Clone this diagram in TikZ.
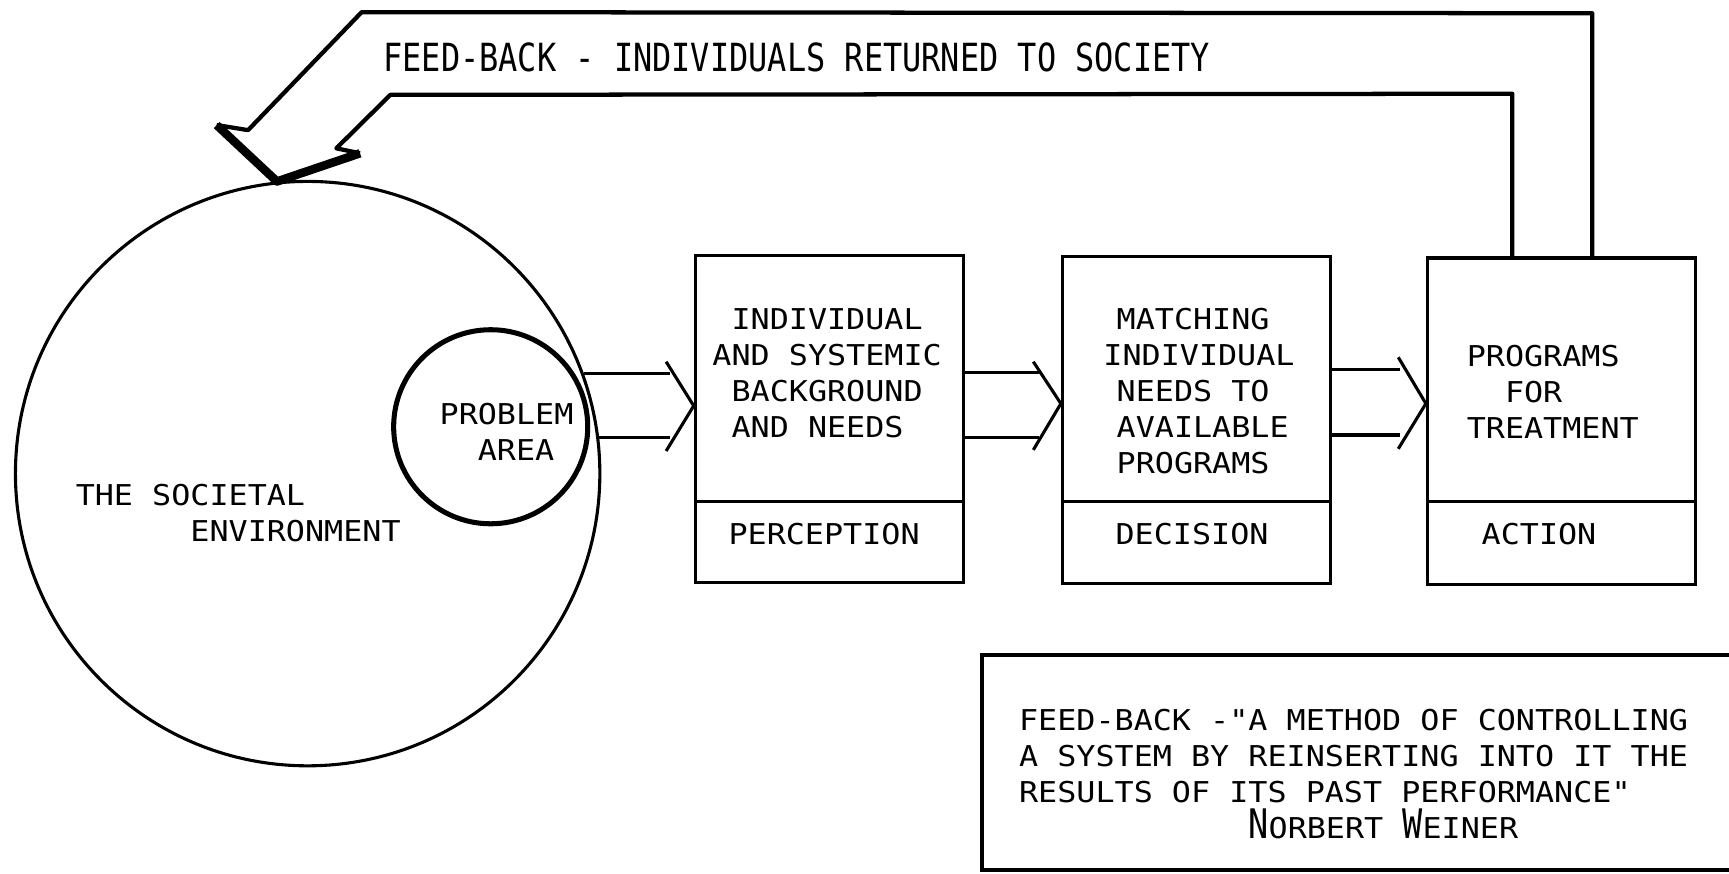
\documentclass[tikz,border=0pt]{standalone}
\usepackage{fontspec}
\newfontfamily\typewriter[FakeStretch=1.107]{DejaVu Sans Mono}
\newfontfamily\feedfont[FakeStretch=0.824]{DejaVu Sans Mono}
\newcommand{\typefont}{\typewriter\fontsize{7.4}{9.3}\selectfont}
\newcommand{\initialcap}{\feedfont\fontsize{10.5}{9.3}\selectfont}
\usetikzlibrary{backgrounds}

\begin{document}
\begin{tikzpicture}[x=0.1mm, y=-0.1mm, every node/.style={inner sep=0pt, align=left, font=\typefont},
    box/.style={draw, line width=0.8pt, minimum width=24.3mm, minimum height=29.6mm},
    world/.style={draw, circle, line width=0.8pt, minimum size=53mm},
    problem/.style={draw, circle, line width=1.3pt, minimum size=17.6mm},
    shaft/.style={line width=0.8pt},
    feedback/.style={line width=1.1pt, line join=round},
    barb/.style={line width=2.2pt, line join=round},
    background rectangle/.style={fill=white}, show background rectangle, inner frame sep=0pt]

\useasboundingbox (0,0) rectangle (1568,792);

% circles ---
\node[world] (society) at (279,429.5) {};
\node[problem] (problem) at (445,387) {};
\node[anchor=north west] (societytext) at (68,438) {THE SOCIETAL\\\phantom{AAAAAA}ENVIRONMENT};
\node[anchor=north west] (problemtext) at (398,364.6) {PROBLEM\\\phantom{AA}AREA};

% boxes ---
\node[box] (box1) at (752,380) {};
\node[box] (box2) at (1085,381) {};
\node[box] (box3) at (1416,382) {};
\draw[line width=0.8pt] (box1.west |- 0,455) -- (box1.east |- 0,455);
\draw[line width=0.8pt] (box2.west |- 0,455) -- (box2.east |- 0,455);
\draw[line width=0.8pt] (box3.west |- 0,455) -- (box3.east |- 0,455);

\node[anchor=north west] (need1) at (645.4,278.8) {\phantom{A}INDIVIDUAL\\AND SYSTEMIC\\\phantom{A}BACKGROUND\\\phantom{A}AND NEEDS};
\node[anchor=base west] (perception) at (660,494.2) {PERCEPTION};
\node[anchor=north west] (need2) at (1012,278.8) {MATCHING\\\hspace*{-1.2mm}INDIVIDUAL\\NEEDS TO\\AVAILABLE\\PROGRAMS};
\node[anchor=base west] (decision) at (1011,494.2) {DECISION};
\node[anchor=north west] (need3) at (1329.5,312) {PROGRAMS\\\phantom{AA}FOR\\TREATMENT};
\node[anchor=base west] (action) at (1343,494.2) {ACTION};

% block arrows ---
\coordinate (tip1) at (box1.west |- 0,368);
\coordinate (up1) at (608,338.5);
\coordinate (lo1) at (608,397.5);
\draw[shaft] (society.20) -- (society.20 -| up1);
\draw[shaft] (society.7) -- (society.7 -| lo1);
\draw[shaft] ([shift={(-25,-40)}]tip1) -- (tip1) -- ([shift={(-25,41)}]tip1);

\coordinate (tip2) at (box2.west |- 0,366);
\coordinate (up2) at (942,337.5);
\coordinate (lo2) at (942,397);
\draw[shaft] (box1.east |- up2) -- (up2);
\draw[shaft] (box1.east |- lo2) -- (lo2);
\draw[shaft] ([shift={(-25,-38)}]tip2) -- (tip2) -- ([shift={(-25,42)}]tip2);

\coordinate (tip3) at (box3.west |- 0,366);
\coordinate (up3) at (1270,335);
\coordinate (lo3) at (1270,394.5);
\draw[shaft] (box2.east |- up3) -- (up3);
\draw[shaft] (box2.east |- lo3) -- (lo3);
\draw[shaft] ([shift={(-25,-42)}]tip3) -- (tip3) -- ([shift={(-25,41)}]tip3);

% feed-back ---
\draw[feedback] (box3.north -| 1444,0) -- (1444,12) -- (328,11) -- (225,118) -- (196.5,113.4);
\draw[feedback] (326.5,139) -- (305,134.5) -- (354,86) -- (1371.5,85) -- (box3.north -| 1371.5,0);
\draw[barb] (196.5,113.4) -- (society.96) -- (326.5,139);
\node[anchor=base west, font=\feedfont\fontsize{10}{12}\selectfont] (fbtext) at (347,65) {FEED-BACK - INDIVIDUALS RETURNED TO SOCIETY};

% quote ---
\draw[line width=1pt] (1575,594) -- (890.5,594) -- (890.5,789) -- (1575,789);
\node[anchor=north west] (quote) at (923.5,642) {FEED-BACK -"A METHOD OF CONTROLLING\\A SYSTEM BY REINSERTING INTO IT THE\\RESULTS OF ITS PAST PERFORMANCE"\\\phantom{AAAAAAAAAAAA}{\initialcap N}ORBERT {\initialcap W}EINER};

\end{tikzpicture}
\end{document}
